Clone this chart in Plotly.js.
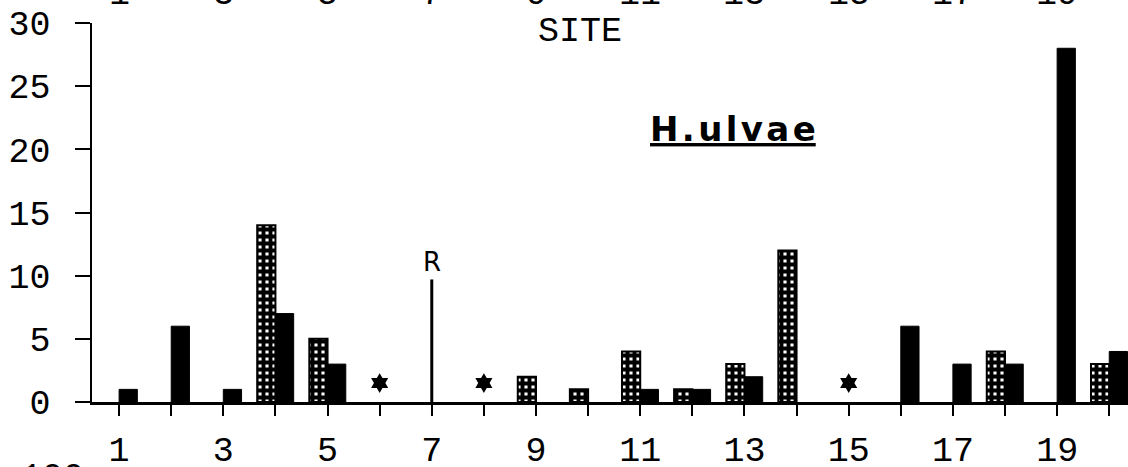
<!DOCTYPE html>
<html>
<head>
<meta charset="utf-8">
<script src="https://cdn.plot.ly/plotly-3.0.1.min.js"></script>
<style>
  html, body { margin: 0; padding: 0; background: #fff; }
  #chart { width: 1128px; height: 467px; }
</style>
</head>
<body>
<div id="chart"></div>
<script>
// ---- data ----
const sites = [1,2,3,4,5,6,7,8,9,10,11,12,13,14,15,16,17,18,19,20];
const hatchedValues = [0,0,0,14,5,0,0,0,2,1,4,1,3,12,0,0,0,4,0,3];
const solidValues   = [1,6,1,7,3,0,0,0,0,0,1,1,2,0,0,6,3,3,28,4];
const starSites  = [6, 8, 15];
const starLevels = [1.5, 1.5, 1.5];
const rSites   = [7];
const rHeights = [9.7];
const rLabel = "R";
const tickLabels = sites.map(s => (s % 2 === 1 ? String(s) : ""));
const upperTickSites  = [1,3,5,7,9,11,13,15,17,19];
const upperTickLabels = ["1","3","5","7","9","11","13","15","17","19"];
const upperAxisTitle = "SITE";
const speciesTitle = "H.ulvae";
const lowerCutLabel = "100";

// ---- styles ----
const monoFont = { family: "Liberation Mono, DejaVu Sans Mono, monospace", size: 35, color: "#000" };

const traces = [
  {
    type: "bar", x: sites, y: hatchedValues.map(v => v || null), name: "hatched",
    marker: {
      color: "#fff",
      line: { color: "#000", width: 2 },
      pattern: { shape: "+", fgcolor: "#000", bgcolor: "#fff", size: 7, solidity: 0.8 }
    },
    hoverinfo: "skip"
  },
  {
    type: "bar", x: sites, y: solidValues.map(v => v || null), name: "solid",
    marker: { color: "#000", line: { color: "#000", width: 1 } },
    hoverinfo: "skip"
  },
  {
    type: "scatter", mode: "markers", x: starSites, y: starLevels,
    marker: { symbol: "hexagram", size: 15, color: "#000" },
    hoverinfo: "skip"
  }
];

// R line (vertical stick) drawn from rSites/rHeights
rSites.forEach((s, i) => {
  traces.push({
    type: "scatter", mode: "lines",
    x: [s, s], y: [0, rHeights[i]],
    line: { color: "#000", width: 3 },
    hoverinfo: "skip"
  });
});

const annotations = [];
rSites.forEach((s, i) => {
  annotations.push({
    x: s, y: rHeights[i], xref: "x", yref: "y",
    text: rLabel, showarrow: false, yanchor: "bottom",
    font: { family: "DejaVu Sans, sans-serif", size: 26, color: "#000" }
  });
});
upperTickSites.forEach((s, i) => {
  annotations.push({
    x: s, y: 1.015, xref: "x", yref: "paper",
    text: upperTickLabels[i], showarrow: false, yanchor: "bottom",
    font: monoFont
  });
});
annotations.push({
  x: 9.85, y: 0.975, xref: "x", yref: "paper",
  text: upperAxisTitle, showarrow: false, yanchor: "middle",
  font: monoFont
});
annotations.push({
  x: 12.78, y: 21.6, xref: "x", yref: "y",
  text: "<b><u>" + speciesTitle.split("").join("\u200A") + "</u></b>",
  showarrow: false,
  font: { family: "DejaVu Sans, sans-serif", size: 34, color: "#000" }
});
annotations.push({
  x: -0.07, y: -0.1425, xref: "paper", yref: "paper",
  text: lowerCutLabel, showarrow: false, yanchor: "top",
  font: monoFont
});

const layout = {
  width: 1128, height: 467,
  margin: { l: 92, r: 0, t: 23, b: 65, pad: 0 },
  paper_bgcolor: "#fff", plot_bgcolor: "#fff",
  showlegend: false,
  barmode: "group", bargap: 0.3, bargroupgap: 0,
  xaxis: {
    range: [0.48, 20.36],
    tickmode: "array", tickvals: sites, ticktext: tickLabels,
    ticks: "outside", ticklen: 11, tickwidth: 2, tickcolor: "#000",
    showline: true, linewidth: 2.5, linecolor: "#000",
    showgrid: false, zeroline: false,
    tickfont: monoFont, ticklabelstandoff: 3
  },
  yaxis: {
    range: [0, 30],
    tickmode: "array", tickvals: [0,5,10,15,20,25,30],
    ticks: "outside", ticklen: 15, tickwidth: 2, tickcolor: "#000",
    showline: true, linewidth: 2.5, linecolor: "#000",
    showgrid: false, zeroline: false,
    tickfont: monoFont, ticklabelstandoff: 17
  },
  annotations: annotations
};

Plotly.newPlot("chart", traces, layout, { staticPlot: true, displayModeBar: false });
</script>
</body>
</html>
